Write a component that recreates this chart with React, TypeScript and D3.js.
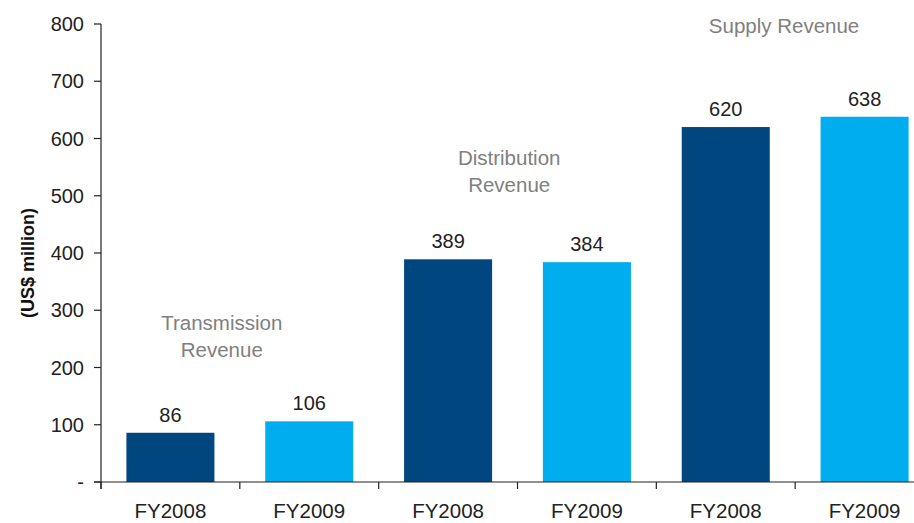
import React from "react";
import * as d3 from "d3";

const categories = ["FY2008", "FY2009", "FY2008", "FY2009", "FY2008", "FY2009"];
const values = [86, 106, 389, 384, 620, 638];
const seriesColors = ["#00467f", "#00aeef", "#00467f", "#00aeef", "#00467f", "#00aeef"];
const yTicks = [0, 100, 200, 300, 400, 500, 600, 700, 800];
const groupLabels = [
  { lines: ["Transmission", "Revenue"], center: 0.37, value: 265 },
  { lines: ["Distribution", "Revenue"], center: 2.44, value: 554 },
  { lines: ["Supply Revenue"], center: 4.42, value: 784 },
];

const W = 914;
const H = 523;
const FONT = "'Liberation Sans', Arial, Helvetica, sans-serif";

export default function App() {
  const y = d3.scaleLinear().domain([0, 800]).range([482, 24]);
  const x = d3
    .scaleBand<number>()
    .domain(d3.range(categories.length))
    .range([101, 934])
    .padding(0);
  const step = x.step();
  const barW = step * 0.634;
  const axisX = 101;
  const baseY = y(0);

  return (
    <svg
      width={W}
      height={H}
      style={{ position: "absolute", left: 0, top: 0, background: "#fff" }}
      fontFamily={FONT}
    >
      {/* bars */}
      {values.map((v, i) => {
        const cx = (x(i) as number) + step / 2;
        return (
          <g key={i}>
            <rect
              x={cx - barW / 2}
              y={y(v)}
              width={barW}
              height={baseY - y(v)}
              fill={seriesColors[i]}
            />
            <text
              x={cx}
              y={y(v) - 11}
              textAnchor="middle"
              fontSize={20}
              fill="#222"
            >
              {v}
            </text>
            <text
              x={cx}
              y={518}
              textAnchor="middle"
              fontSize={20.5}
              fill="#222"
            >
              {categories[i]}
            </text>
          </g>
        );
      })}

      {/* y axis */}
      <line x1={axisX} x2={axisX} y1={y(800)} y2={baseY + 7} stroke="#222" strokeWidth={1.2} />
      {yTicks.map((t) => (
        <g key={t}>
          <line x1={axisX - 7} x2={axisX} y1={y(t)} y2={y(t)} stroke="#222" strokeWidth={1.2} />
          <text
            x={84}
            y={y(t)}
            dy="0.35em"
            textAnchor="end"
            fontSize={20}
            fill="#222"
          >
            {t === 0 ? "-" : t}
          </text>
        </g>
      ))}

      {/* x axis */}
      <line x1={axisX - 7} x2={W} y1={baseY} y2={baseY} stroke="#222" strokeWidth={1.2} />
      {d3.range(categories.length + 1).map((i) => {
        const tx = 101 + i * step;
        return (
          <line key={i} x1={tx} x2={tx} y1={baseY} y2={baseY + 7} stroke="#222" strokeWidth={1.2} />
        );
      })}

      {/* y axis title */}
      <text
        transform={`translate(34, 263) rotate(-90)`}
        textAnchor="middle"
        fontSize={18}
        fontWeight="bold"
        fill="#111"
      >
        (US$ million)
      </text>

      {/* group labels */}
      {groupLabels.map((g, gi) => {
        const cx = 101 + (g.center + 0.5) * step;
        return (
          <text key={gi} textAnchor="middle" fontSize={20.5} fill="#808080">
            {g.lines.map((l, li) => (
              <tspan key={li} x={cx} y={y(g.value) + li * 27}>
                {l}
              </tspan>
            ))}
          </text>
        );
      })}
    </svg>
  );
}
